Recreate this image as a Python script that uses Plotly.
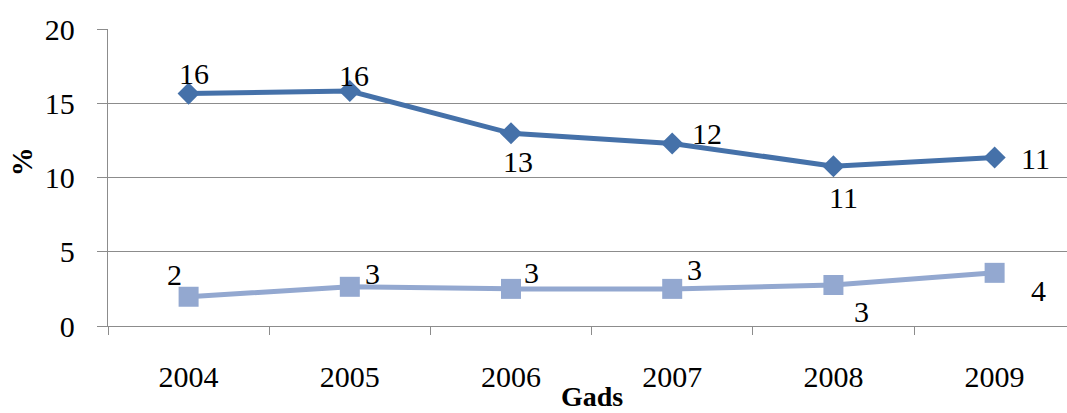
import plotly.graph_objects as go

years = ["2004", "2005", "2006", "2007", "2008", "2009"]
series_a = [15.65, 15.82, 12.98, 12.29, 10.76, 11.35]
series_b = [1.97, 2.64, 2.5, 2.5, 2.76, 3.58]
labels_a = ["16", "16", "13", "12", "11", "11"]
labels_b = ["2", "3", "3", "3", "3", "4"]
y_ticks = [0, 5, 10, 15, 20]

# label offsets (pixels) relative to their points
off_a = [(5, -20), (4, -16), (7, 28), (35, -10), (10, 31), (41, 1)]
off_b = [(-14, -22), (23, -13), (20, -16), (22, -19), (28, 26), (44, 18)]

color_a = "#4571a9"
color_b = "#93a8d0"
grid = "#8c8c8c"
font_family = "Liberation Serif, Times New Roman, serif"

fig = go.Figure()
fig.add_trace(go.Scatter(
    x=years, y=series_a, mode="lines+markers",
    line=dict(color=color_a, width=5),
    marker=dict(symbol="diamond", size=17, color=color_a),
    cliponaxis=False, showlegend=False,
))
fig.add_trace(go.Scatter(
    x=years, y=series_b, mode="lines+markers",
    line=dict(color=color_b, width=5),
    marker=dict(symbol="square", size=20, color=color_b),
    cliponaxis=False, showlegend=False,
))

annotations = []
for i, (v, t, (dx, dy)) in enumerate(zip(series_a, labels_a, off_a)):
    annotations.append(dict(xref="x", yref="y", x=i, y=v, text=t, showarrow=False,
                            xshift=dx, yshift=-dy,
                            font=dict(size=30, color="black", family=font_family)))
for i, (v, t, (dx, dy)) in enumerate(zip(series_b, labels_b, off_b)):
    annotations.append(dict(xref="x", yref="y", x=i, y=v, text=t, showarrow=False,
                            xshift=dx, yshift=-dy,
                            font=dict(size=30, color="black", family=font_family)))

annotations.append(dict(xref="paper", yref="paper", x=-0.0897, y=0.555, text="<b>%</b>",
                        textangle=-90, showarrow=False, xanchor="center", yanchor="middle",
                        font=dict(size=29, color="black", family=font_family)))
annotations.append(dict(xref="paper", yref="paper", x=0.505, y=-0.236, text="<b>Gads</b>",
                        showarrow=False, xanchor="center", yanchor="middle",
                        font=dict(size=28, color="black", family=font_family)))

fig.update_layout(
    width=1067, height=413,
    margin=dict(l=108, r=0, t=29, b=87),
    paper_bgcolor="white", plot_bgcolor="white",
    font=dict(family=font_family, size=30, color="black"),
    annotations=annotations,
    xaxis=dict(
        type="category", range=[-0.5, 5.449],
        showgrid=False, showline=True, linecolor=grid, linewidth=1.3,
        ticks="outside", tickson="boundaries", ticklen=8, tickcolor=grid, tickwidth=1.3,
        ticklabelstandoff=24,
        tickfont=dict(size=30, family=font_family, color="black"),
    ),
    yaxis=dict(
        range=[0, 20], tickvals=y_ticks, ticktext=[str(v) for v in y_ticks],
        showgrid=True, gridcolor=grid, gridwidth=1.3,
        showline=True, linecolor=grid, linewidth=1.3, zeroline=False,
        ticks="outside", ticklen=10, tickcolor=grid, tickwidth=1.3,
        ticklabelstandoff=16,
        tickfont=dict(size=30, family=font_family, color="black"),
    ),
)

fig.write_html("out.html", config={"displayModeBar": False},
               post_script="document.body.style.margin='0';document.body.style.overflow='hidden';")
